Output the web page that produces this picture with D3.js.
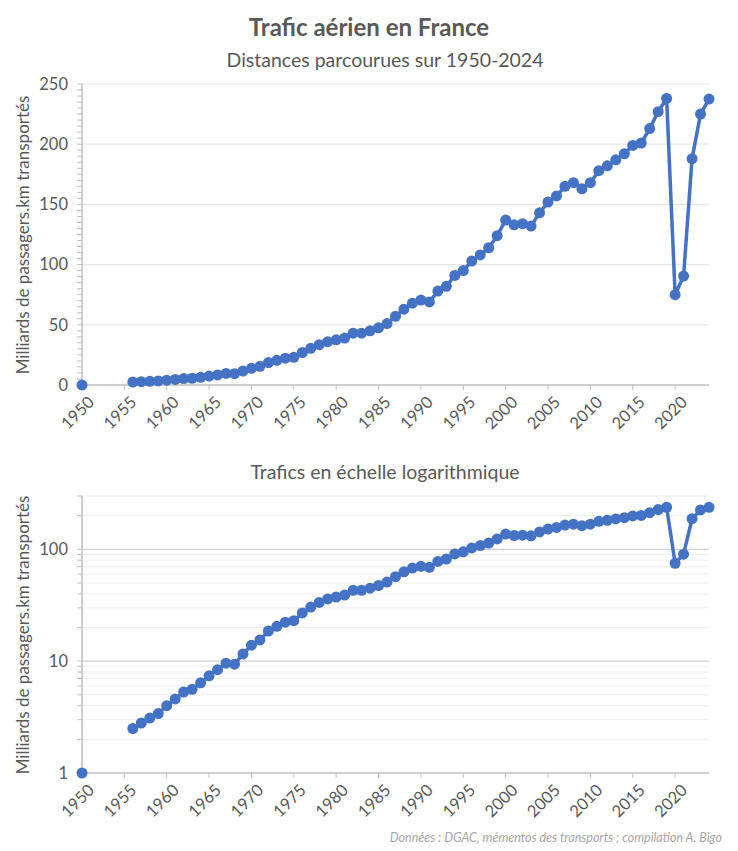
<!DOCTYPE html>
<html><head><meta charset="utf-8">
<script src="https://cdn.jsdelivr.net/npm/d3@7"></script>
<style>
body{margin:0;background:#fff;font-family:Lato,"Open Sans",sans-serif;}
</style></head>
<body><svg id="chart" width="738" height="851"></svg>
<script>
// data: milliards de passagers.km
var years = d3.range(1956, 2025);
var values = [2.5,2.8,3.1,3.4,4.0,4.6,5.3,5.6,6.4,7.4,8.4,9.6,9.4,11.6,13.9,15.5,18.6,20.5,22.3,23.0,
  27,30.5,33.5,36,37.5,39,43,43,45,47.5,51,57,63,68,70.5,69,78,82,91,95,
  103,108,114,124,137,133,134,132,143,152,157,165,168,163,168,178,182,187,192,199,
  201,213,227,238,75,90.5,188,225,237.5];
var startYear = 1950, startTop = 0, startLog = 1;
var xTicks = d3.range(1950, 2021, 5);
var topTicks = [0,50,100,150,200,250];
var logTicks = [1,10,100];

var color = '#4472C4', grid = '#e6e6e6', axisCol = '#bfbfbf', txt = '#595959';
var svg = d3.select('#chart');
var pts = years.map(function(y, i){ return [y, values[i]]; });

var x = d3.scaleLinear().domain([1950, 2024]).range([82, 709]);

svg.append('text').attr('x', 369).attr('y', 36).attr('text-anchor', 'middle')
  .attr('font-size', 24).attr('font-weight', 'bold').attr('fill', txt).text('Trafic aérien en France');
svg.append('text').attr('x', 385).attr('y', 67).attr('text-anchor', 'middle')
  .attr('font-size', 19.5).attr('fill', txt).text('Distances parcourues sur 1950-2024');
svg.append('text').attr('x', 385).attr('y', 479).attr('text-anchor', 'middle')
  .attr('font-size', 19.5).attr('fill', txt).text('Trafics en échelle logarithmique');
svg.append('text').attr('x', 722).attr('y', 842).attr('text-anchor', 'end')
  .attr('font-size', 12.5).attr('font-style', 'italic').attr('fill', '#a6a6a6')
  .text('Données : DGAC, mémentos des transports ; compilation A. Bigo');

function xAxis(yPos){
  var g = svg.append('g').attr('transform', 'translate(0,' + yPos + ')');
  g.append('line').attr('x1', 82).attr('x2', 709).attr('stroke', axisCol).attr('stroke-width', 1.5);
  xTicks.forEach(function(t){
    g.append('line').attr('x1', x(t)).attr('x2', x(t)).attr('y1', 0).attr('y2', 5).attr('stroke', axisCol);
    g.append('text').attr('transform', 'translate(' + (x(t) + 5) + ',10) rotate(-45)')
      .attr('text-anchor', 'end').attr('dy', '0.7em').attr('font-size', 16.5).attr('fill', txt).text(t);
  });
}
function yLabel(cy){
  svg.append('text').attr('transform', 'translate(29,' + cy + ') rotate(-90)')
    .attr('text-anchor', 'middle').attr('font-size', 17).attr('fill', txt)
    .text('Milliards de passagers.km transportés');
}
function series(yScale, first){
  var line = d3.line().x(function(d){ return x(d[0]); }).y(function(d){ return yScale(d[1]); });
  svg.append('path').datum(pts).attr('d', line).attr('fill', 'none')
    .attr('stroke', color).attr('stroke-width', 3.5).attr('stroke-linejoin', 'round');
  svg.append('g').selectAll('circle').data(pts.concat([[startYear, first]])).enter().append('circle')
    .attr('cx', function(d){ return x(d[0]); }).attr('cy', function(d){ return yScale(d[1]); })
    .attr('r', 5.5).attr('fill', color);
}

// top panel
var y1 = d3.scaleLinear().domain([0, 250]).range([385, 84]);
d3.range(5, 251, 5).forEach(function(t){
  svg.append('line').attr('x1', 77).attr('x2', 82).attr('y1', y1(t)).attr('y2', y1(t)).attr('stroke', axisCol);
});
topTicks.forEach(function(t){
  if (t > 0) svg.append('line').attr('x1', 82).attr('x2', 709).attr('y1', y1(t)).attr('y2', y1(t)).attr('stroke', grid).attr('stroke-width', 1.2);
  svg.append('text').attr('x', 68).attr('y', y1(t)).attr('dy', '0.35em').attr('text-anchor', 'end')
    .attr('font-size', 16.5).attr('fill', txt).text(t);
});
svg.append('line').attr('x1', 82).attr('x2', 82).attr('y1', 84).attr('y2', 385).attr('stroke', axisCol).attr('stroke-width', 1.5);
xAxis(385);
yLabel(235);
series(y1, startTop);

// bottom panel (log)
var y2 = d3.scaleLog().domain([1, 300]).range([773, 496]);
[2,3,4,5,6,7,8,9,20,30,40,50,60,70,80,90,200,300].forEach(function(t){
  svg.append('line').attr('x1', 82).attr('x2', 709).attr('y1', y2(t)).attr('y2', y2(t)).attr('stroke', '#eeeeee');
  svg.append('line').attr('x1', 77).attr('x2', 82).attr('y1', y2(t)).attr('y2', y2(t)).attr('stroke', axisCol);
});
logTicks.forEach(function(t){
  if (t > 1) svg.append('line').attr('x1', 77).attr('x2', 709).attr('y1', y2(t)).attr('y2', y2(t)).attr('stroke', '#d0d0d0').attr('stroke-width', 1.3);
  svg.append('text').attr('x', 68).attr('y', y2(t)).attr('dy', '0.35em').attr('text-anchor', 'end')
    .attr('font-size', 16.5).attr('fill', txt).text(t);
});
svg.append('line').attr('x1', 82).attr('x2', 82).attr('y1', 496).attr('y2', 773).attr('stroke', axisCol).attr('stroke-width', 1.5);
xAxis(773);
yLabel(635);
series(y2, startLog);
</script></body></html>
